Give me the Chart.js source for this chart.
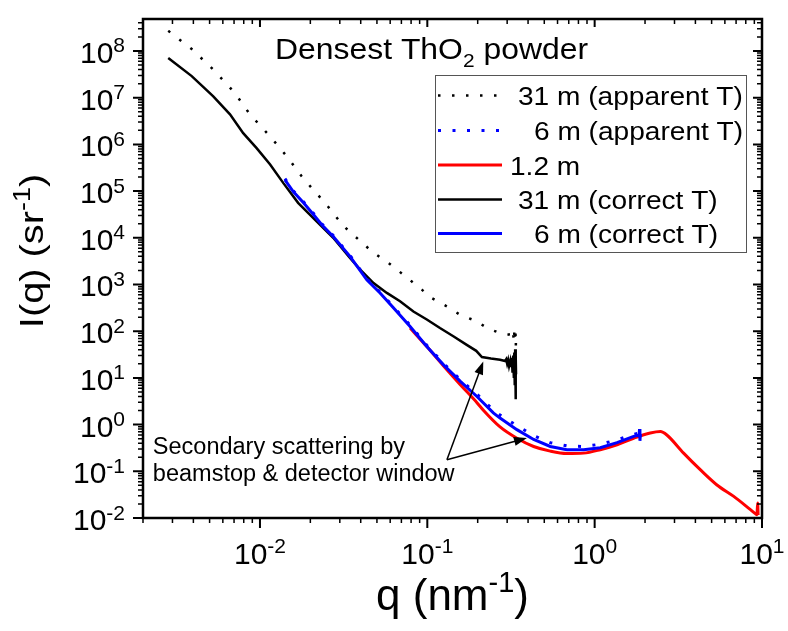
<!DOCTYPE html>
<html>
<head>
<meta charset="utf-8">
<script src="https://cdn.jsdelivr.net/npm/chart.js@4.4.1/dist/chart.umd.min.js"></script>
<style>
  html, body { margin: 0; padding: 0; background: #fff; }
  #wrap { width: 788px; height: 631px; }
</style>
</head>
<body>
<div id="wrap"><canvas id="chart" width="788" height="631"></canvas></div>
<script>
const FONT = "'Liberation Sans', Arial, sans-serif";

// 31 m, apparent transmission (dotted black)
const q31App = [0.00283, 0.00391, 0.00526, 0.00708, 0.00871, 0.0115, 0.0145, 0.0177, 0.0208, 0.0245, 0.0275, 0.0315, 0.0466, 0.060, 0.072, 0.0927, 0.106, 0.131, 0.157, 0.198, 0.227, 0.272, 0.300, 0.315, 0.320, 0.325, 0.328, 0.330, 0.333, 0.336, 0.338, 0.339];
const i31App = [2.7e8, 1.1e8, 4.0e7, 1.26e7, 4.4e6, 1.48e6, 5.5e5, 2.1e5, 1.07e5, 5.6e4, 3.3e4, 1.8e4, 5.1e3, 2.7e3, 1.62e3, 776, 513, 339, 224, 162, 117, 91, 84, 86, 75, 95, 70, 105, 60, 117, 47, 89];

// 6 m, apparent transmission (dotted blue)
const q6 = [0.0141, 0.0158, 0.0182, 0.0208, 0.0234, 0.0274, 0.0345, 0.0435, 0.0522, 0.0627, 0.0789, 0.0993, 0.125, 0.157, 0.198, 0.248, 0.272, 0.343, 0.432, 0.543, 0.682, 0.859, 1.08, 1.36, 1.71, 1.84, 1.855, 1.865, 1.875];
const i6App = [1.85e5, 1.02e5, 5.9e4, 3.4e4, 2.0e4, 1.12e4, 4.2e3, 1.32e3, 690, 335, 135, 50, 20.5, 9.3, 4.5, 2.05, 1.6, 0.95, 0.58, 0.41, 0.35, 0.34, 0.38, 0.47, 0.62, 0.66, 0.82, 0.52, 0.7];

// 1.2 m (red)
const q12 = [0.0789, 0.0993, 0.1247, 0.157, 0.198, 0.217, 0.272, 0.343, 0.432, 0.543, 0.682, 0.859, 1.08, 1.36, 1.71, 2.15, 2.47, 2.70, 3.40, 4.29, 5.38, 6.78, 8.53, 9.16, 9.33, 9.42, 9.48];
const i12 = [117, 46.8, 18.2, 7.24, 2.95, 2.0, 0.89, 0.51, 0.34, 0.27, 0.24, 0.245, 0.29, 0.37, 0.51, 0.66, 0.71, 0.60, 0.245, 0.107, 0.051, 0.029, 0.0151, 0.0123, 0.0117, 0.021, 0.0115];

// 31 m, correct transmission (solid black)
const q31Cor = [0.00283, 0.00391, 0.00526, 0.00662, 0.00794, 0.00955, 0.0115, 0.0138, 0.0169, 0.0218, 0.0274, 0.0345, 0.0396, 0.0477, 0.0573, 0.0687, 0.0826, 0.0993, 0.119, 0.143, 0.172, 0.196, 0.212, 0.24, 0.272, 0.292, 0.296, 0.300, 0.304, 0.308, 0.313, 0.316, 0.320, 0.323, 0.326, 0.329, 0.331, 0.333, 0.335, 0.337, 0.338, 0.339];
const i31Cor = [7.1e7, 2.9e7, 1.07e7, 4.4e6, 1.74e6, 8.3e5, 3.7e5, 1.48e5, 5.6e4, 2.24e4, 1.0e4, 3.7e3, 2.1e3, 1.07e3, 660, 437, 263, 178, 117, 78, 51, 38, 28, 26, 24.5, 23, 25, 20, 24, 18, 23, 17, 27, 13, 30, 10, 35, 7, 41, 3.5, 30, 12];

// 6 m, correct transmission (solid blue)
const i6Cor = [1.74e5, 9.8e4, 5.6e4, 3.2e4, 1.9e4, 1.07e4, 4.0e3, 1.26e3, 660, 316, 126, 47, 19, 8.5, 4.0, 1.78, 1.38, 0.78, 0.48, 0.34, 0.29, 0.29, 0.32, 0.41, 0.56, 0.59, 0.80, 0.45, 0.62];

const xDecades = [-2, -1, 0, 1];
const yDecades = [-2, -1, 0, 1, 2, 3, 4, 5, 6, 7, 8];

const legendLabels = ["31 m (apparent T)", "6 m (apparent T)", "1.2 m", "31 m (correct T)", "6 m (correct T)"];
const titleText = ["Densest ThO", "2", " powder"];
const noteLines = ["Secondary scattering by", "beamstop & detector window"];
// arrow tail and heads, in data units (q, I)
const arrowTail = [0.131, 0.177];
const arrowHeads = [[0.216, 22.5], [0.394, 0.516]];
const noteAnchor = [0.00229, 0.234];

const pts = (qs, is) => qs.map((q, k) => ({ x: q, y: is[k] }));

function drawRich(ctx, runs, x, y, align, sx, rot) {
  sx = sx || 1;
  let w = 0;
  runs.forEach((r) => { ctx.font = r[1] + "px " + FONT; w += ctx.measureText(r[0]).width; });
  let cx = align === "center" ? -w / 2 : align === "right" ? -w : 0;
  ctx.save();
  ctx.translate(x, y);
  if (rot) ctx.rotate(rot);
  ctx.scale(sx, 1);
  ctx.textAlign = "left";
  ctx.textBaseline = "alphabetic";
  ctx.fillStyle = "#000";
  runs.forEach((r) => {
    ctx.font = r[1] + "px " + FONT;
    ctx.fillText(r[0], cx, r[2] || 0);
    cx += ctx.measureText(r[0]).width;
  });
  ctx.restore();
}

function arrow(ctx, x0, y0, x1, y1) {
  const ang = Math.atan2(y1 - y0, x1 - x0);
  const len = 13, half = 4.5;
  ctx.beginPath();
  ctx.moveTo(x0, y0);
  ctx.lineTo(x1 - Math.cos(ang) * len * 0.8, y1 - Math.sin(ang) * len * 0.8);
  ctx.stroke();
  ctx.beginPath();
  ctx.moveTo(x1, y1);
  ctx.lineTo(x1 - Math.cos(ang) * len - Math.sin(ang) * half, y1 - Math.sin(ang) * len + Math.cos(ang) * half);
  ctx.lineTo(x1 - Math.cos(ang) * len + Math.sin(ang) * half, y1 - Math.sin(ang) * len - Math.cos(ang) * half);
  ctx.closePath();
  ctx.fill();
}

const frame = {
  id: "frame",
  afterDatasetsDraw(chart) {
    const { ctx, chartArea: a, scales: { x, y } } = chart;
    ctx.save();
    ctx.strokeStyle = "#000";
    ctx.fillStyle = "#000";

    // tick marks: left/bottom outward, top/right inward
    for (let d = -3; d <= 8; d++) {
      for (let m = 1; m <= 9; m++) {
        const v = m * Math.pow(10, d);
        const major = m === 1;
        ctx.lineWidth = major ? 2 : 1.5;
        if (v >= x.min && v <= x.max) {
          const px = x.getPixelForValue(v);
          ctx.beginPath();
          ctx.moveTo(px, a.bottom); ctx.lineTo(px, a.bottom + (major ? 10 : 5));
          ctx.moveTo(px, a.top); ctx.lineTo(px, a.top + (major ? 8 : 5));
          ctx.stroke();
        }
        if (v >= y.min && v <= y.max) {
          const py = y.getPixelForValue(v);
          ctx.beginPath();
          ctx.moveTo(a.left, py); ctx.lineTo(a.left - (major ? 10 : 5), py);
          ctx.moveTo(a.right, py); ctx.lineTo(a.right - (major ? 9 : 5), py);
          ctx.stroke();
        }
      }
    }

    // frame
    ctx.lineWidth = 2.5;
    ctx.strokeRect(a.left, a.top, a.right - a.left, a.bottom - a.top);

    // tick labels
    xDecades.forEach((d) => {
      drawRich(ctx, [["10", 30], [String(d), 21, -11.5]], x.getPixelForValue(Math.pow(10, d)), 564, "center");
    });
    yDecades.forEach((d) => {
      drawRich(ctx, [["10", 30], [String(d), 21, -10.5]], 125, y.getPixelForValue(Math.pow(10, d)) + 12, "right");
    });

    // axis titles
    drawRich(ctx, [["q (nm", 44], ["-1", 29, -18], [")", 44]], (a.left + a.right) / 2, 610, "center");
    drawRich(ctx, [["I(q) (sr", 34], ["-1", 23, -13], [")", 34]], 43, 251, "center", 1.17, -Math.PI / 2);

    // title
    drawRich(ctx, [[titleText[0], 29], [titleText[1], 19, 8], [titleText[2], 29]], 275, 59, "left", 1.1);

    // legend
    ctx.lineWidth = 1;
    ctx.strokeStyle = "#555";
    ctx.strokeRect(435.5, 75.5, 311, 177);
    const ds = chart.data.datasets;
    const rowY = [95.5, 130.5, 165, 199.5, 233.5];
    const textX = [518, 534, 510, 518, 534];
    ds.forEach((d, r) => {
      ctx.save();
      ctx.strokeStyle = d.borderColor;
      ctx.lineWidth = d.borderWidth;
      ctx.setLineDash(d.borderDash || []);
      ctx.beginPath();
      ctx.moveTo(438, rowY[r]);
      ctx.lineTo(502, rowY[r]);
      ctx.stroke();
      ctx.restore();
      drawRich(ctx, [[legendLabels[r], 26]], textX[r], rowY[r] + 9.5, "left", 1.08);
    });

    // annotation
    const nx = x.getPixelForValue(noteAnchor[0]);
    const ny = y.getPixelForValue(noteAnchor[1]);
    drawRich(ctx, [[noteLines[0], 23.5]], nx, ny, "left");
    drawRich(ctx, [[noteLines[1], 23.5]], nx, ny + 27.4, "left");

    ctx.strokeStyle = "#000";
    ctx.fillStyle = "#000";
    ctx.lineWidth = 1.5;
    const tx = x.getPixelForValue(arrowTail[0]);
    const ty = y.getPixelForValue(arrowTail[1]);
    arrowHeads.forEach((h) => {
      arrow(ctx, tx, ty, x.getPixelForValue(h[0]), y.getPixelForValue(h[1]));
    });
    ctx.restore();
  }
};

new Chart(document.getElementById("chart"), {
  type: "line",
  data: {
    datasets: [
      { label: legendLabels[0], data: pts(q31App, i31App), borderColor: "#000000", borderWidth: 2.5, borderDash: [2.5, 11.5], order: 1 },
      { label: legendLabels[1], data: pts(q6, i6App), borderColor: "#0000ff", borderWidth: 3, borderDash: [3, 11.5], order: 0 },
      { label: legendLabels[2], data: pts(q12, i12), borderColor: "#ff0000", borderWidth: 3, cubicInterpolationMode: "monotone", order: 4 },
      { label: legendLabels[3], data: pts(q31Cor, i31Cor), borderColor: "#000000", borderWidth: 2.5, order: 3 },
      { label: legendLabels[4], data: pts(q6, i6Cor), borderColor: "#0000ff", borderWidth: 3, order: 2 },
    ],
  },
  options: {
    responsive: false,
    animation: false,
    devicePixelRatio: 1,
    layout: { padding: { left: 143, right: 26, top: 19, bottom: 113 } },
    elements: { point: { radius: 0 }, line: { tension: 0, fill: false } },
    plugins: { legend: { display: false }, tooltip: { enabled: false }, title: { display: false } },
    scales: {
      x: { type: "logarithmic", min: 0.002, max: 10, display: false },
      y: { type: "logarithmic", min: 0.01, max: 4.84e8, display: false },
    },
  },
  plugins: [frame],
});
</script>
</body>
</html>
